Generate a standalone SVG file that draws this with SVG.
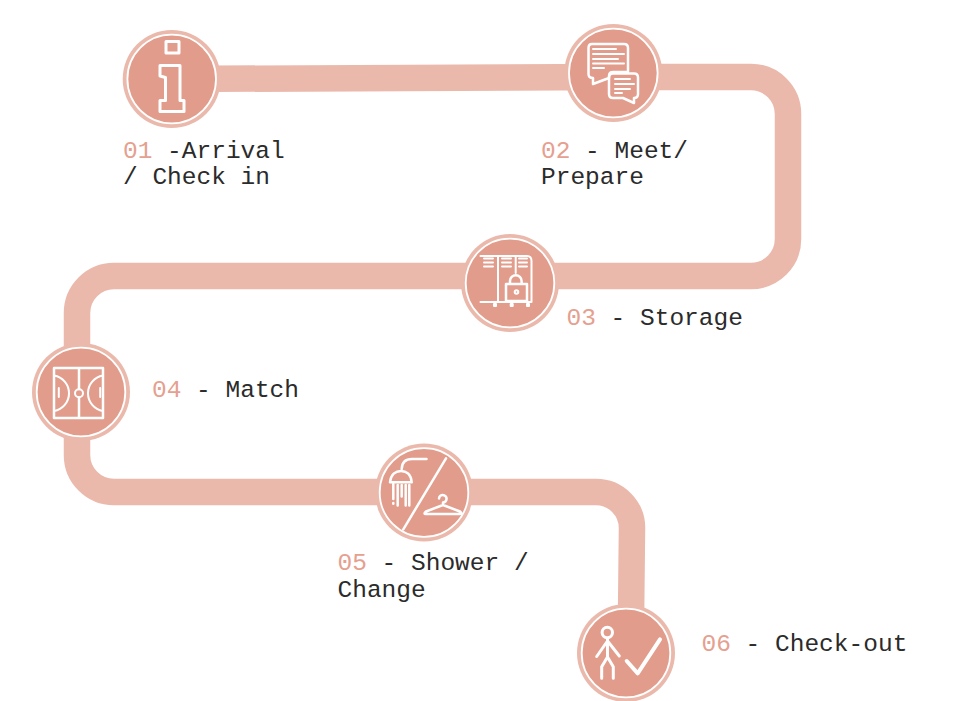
<svg xmlns="http://www.w3.org/2000/svg" width="962" height="701" viewBox="0 0 962 701">
<style>
.bg{fill:#fff}
.road{fill:none;stroke:#EAB9AB;stroke-width:26.5}
.o{fill:#EAB9AB}
.i{fill:#E29C8B;stroke:#fff;stroke-width:1.800}
.g{fill:none;stroke:#fff;stroke-width:2;stroke-linecap:round;stroke-linejoin:round}
.t{stroke-width:3}
.m{stroke-width:2.500}
text{font-family:"Liberation Mono","DejaVu Sans Mono",monospace;font-size:24.5px;fill:#2b2b2b}
.n{fill:#E5A090}
</style>
<rect class="bg" width="962" height="701"/>
<g id="connectors">
<path class="road" d="M172 79L613 77H751A37 37 0 0 1 788 114V239A37 37 0 0 1 751 276H114A37 37 0 0 0 77 313V455A37 37 0 0 0 114 492H596A36 36 0 0 1 632 528L631 620"/>
</g>
<g id="node-1">
<circle class="o" cx="171.700" cy="79" r="49"/><circle class="i" cx="171.700" cy="79" r="44.300"/>
<path class="g t" d="M166 41.500H179V53H166ZM160 65.500H180V100.500H184V111.500H160V100.500H165.500V77.500L160 76Z" stroke-linejoin="miter"/>
</g>
<g id="node-2">
<circle class="o" cx="613.300" cy="73" r="49"/><circle class="i" cx="613.300" cy="73" r="44.300"/>
<path class="g m" d="M592 44H624Q628 44 628 48V72H613Q609 72 609 76V78L593 84V78Q588.500 78 588.500 74V48Q588.500 44 592 44Z"/>
<path class="g" d="M593 49H616M593 54H624M593 59H618M593 63.500H624M593 68H604"/>
<path class="g m" d="M613 73.500H634Q638 73.500 638 77.500V94Q638 98 634 98V103L623 98H613Q609 98 609 94V77.500Q609 73.500 613 73.500Z"/>
<path class="g" d="M615 79H630M615 84H634M615 89H630M615 93H622"/>
</g>
<g id="node-3">
<circle class="o" cx="510" cy="283" r="49"/><circle class="i" cx="510" cy="283" r="44.300"/>
<path class="g" d="M480.500 256H527Q531.500 256 531.500 261V302M498 256V302M515.700 256V273M480.500 302H531.500"/>
<path class="g" d="M484 258.500H493M484 262.500H493M484 266.500H493M502 258.500H511M502 262.500H511M502 266.500H511M519 258.500H527M519 262.500H527M519 266.500H527"/>
<path class="g m" d="M506 284H527V301H506ZM510 284V281A5.800 5.800 0 0 1 521.600 281V284"/>
<circle class="g" cx="516.500" cy="292" r="1.800"/>
<path class="g" d="M494 304H496V306H494ZM510.700 304H512.700V306H510.700ZM527 304H529V306H527Z"/>
</g>
<g id="node-4">
<circle class="o" cx="81" cy="392" r="49"/><circle class="i" cx="81" cy="392" r="44.300"/>
<path class="g m" stroke-linejoin="miter" d="M54 368H103V418H54ZM79 368V389M79 397.500V418"/>
<path class="g" d="M54 375.500A18 18 0 0 1 54 411M103 375.500A18 18 0 0 0 103 411M58.800 388V397M100.200 388V397"/>
<circle class="g" cx="79" cy="393.300" r="4"/>
</g>
<g id="node-5">
<circle class="o" cx="424" cy="492.500" r="49"/><circle class="i" cx="424" cy="492.500" r="44.300"/>
<path class="g m" d="M446 458.300L403.300 529.300M426.500 459H412Q402 459 401.700 469"/>
<path class="g m" d="M390 482.300C391 474 396 471 401 471S411 474 411.700 482.300Z"/>
<path class="g m" d="M393.300 484V499M397.700 485V505.500M401.700 485V496.500M405.700 485V505.500M409.300 485V505.500M393.300 503V503.800"/>
<path class="g m" d="M439 498.500A3.800 3.800 0 1 1 443 502.500V505L426 511.500Q423 514 426 514H460Q463 514 460 511.500L443 505"/>
</g>
<g id="node-6">
<circle class="o" cx="626" cy="653" r="49"/><circle class="i" cx="626" cy="653" r="44.300"/>
<circle class="g t" cx="607.300" cy="632.500" r="5.200"/>
<path class="g t" d="M607.500 639V657M607.500 641L596.700 656.500M607.500 641L619.300 656M607.500 657L601.700 666.700V678.300M607.500 657L613.300 666.700V678.300"/>
<path class="g" style="stroke-width:4" d="M626.700 661L637.700 673.300L660 639.300"/>
</g>
<g id="label-1"><text x="123" y="158"><tspan class="n">01</tspan> -Arrival</text><text x="123" y="184">/ Check in</text></g>
<g id="label-2"><text x="541" y="158"><tspan class="n">02</tspan> - Meet/</text><text x="541" y="184">Prepare</text></g>
<g id="label-3"><text x="566.500" y="325"><tspan class="n">03</tspan> - Storage</text></g>
<g id="label-4"><text x="152" y="397"><tspan class="n">04</tspan> - Match</text></g>
<g id="label-5"><text x="337.500" y="570"><tspan class="n">05</tspan> - Shower /</text><text x="337.500" y="597">Change</text></g>
<g id="label-6"><text x="701.500" y="651"><tspan class="n">06</tspan> - Check-out</text></g>
</svg>
